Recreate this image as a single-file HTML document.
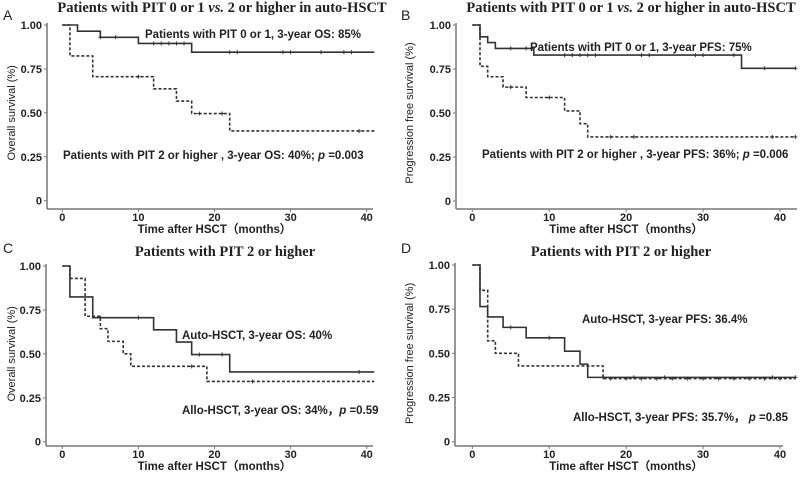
<!DOCTYPE html>
<html><head><meta charset="utf-8"><style>
body{margin:0;background:#fff}
svg text{font-family:"Liberation Sans",sans-serif;font-weight:bold;fill:#222}
</style></head><body>
<svg id="fig" width="800" height="475" xmlns="http://www.w3.org/2000/svg"></svg>
<script>
// Panel A data
const aSolidT=[0,2,5,10,17,41];const aSolidS=[1,0.965,0.93,0.895,0.845,0.845];
const aSolidC=[5,7,12,13,14,15,16,22,23,29,30,34,37,38];
const aDashT=[0,1,4,12,15,17,22,41];const aDashS=[1,0.824,0.706,0.637,0.567,0.496,0.397,0.397];
const aDashC=[10,18,21,39];
// Panel B data
const bSolidT=[0,1,2,3,8,35,42];const bSolidS=[1,0.933,0.9,0.867,0.829,0.754,0.754];
const bSolidC=[5,7,12,13,14,15,16,22,23,29,30,34,38,42];
const bDashT=[0,1,2,4,7,12,14,15,42];const bDashS=[1,0.765,0.706,0.647,0.588,0.512,0.439,0.364,0.364];
const bDashC=[5,10,18,21,39,42];
// Panel C data
const cSolidT=[0,1,4,12,15,17,22,41];const cSolidS=[1,0.824,0.706,0.637,0.567,0.496,0.397,0.397];
const cSolidC=[5,10,18,21,39];
const cDashT=[0,1,3,5,6,8,9,19,41];const cDashS=[1,0.929,0.714,0.643,0.571,0.5,0.429,0.343,0.343];
const cDashC=[17,25];
// Panel D data
const dSolidT=[0,1,2,4,7,12,14,15,42];const dSolidS=[1,0.765,0.706,0.647,0.588,0.512,0.439,0.364,0.364];
const dSolidC=[5,10,17,21,25,39,42];
const dDashT=[0,1,2,3,6,17,42];const dDashS=[1,0.857,0.571,0.5,0.429,0.357,0.357];
const dDashC=[18,20,22,24,26,28,30,32,34,36,38,40];
const yTicks=[0,0.25,0.5,0.75,1];const yTickLabels=["0","0.25","0.50","0.75","1.00"];
const xTicks=[0,10,20,30,40];

const NS="http://www.w3.org/2000/svg";const svg=document.getElementById('fig');
function mk(tag,attrs,parent,txt){const e=document.createElementNS(NS,tag);for(const k in attrs)e.setAttribute(k,attrs[k]);if(txt!==undefined)e.textContent=txt;(parent||svg).appendChild(e);return e;}

const panels=[
 {L:"A",lx:3,ly:20,title:"Patients with PIT 0 or 1  vs. 2 or higher in auto-HSCT",tx:222,ty:12,ax:47,x0:62.3,x40:366.7,y1:25,y0:200.7,axY:209,xEnd:373,yt:"Overall survival (%)",
  s:[aSolidT,aSolidS,aSolidC],d:[aDashT,aDashS,aDashC],
  n1:["Patients with PIT 0 or 1, 3-year OS: 85%",145,38],n2:["Patients with PIT 2 or higher , 3-year OS: 40%;  ",63,159,"=0.003"]},
 {L:"B",lx:401,ly:20,title:"Patients with PIT 0 or 1  vs. 2 or higher in auto-HSCT",tx:631,ty:12,ax:456,x0:472.3,x40:780,y1:25,y0:201,axY:209,xEnd:797,yt:"Progression free survival (%)",
  s:[bSolidT,bSolidS,bSolidC],d:[bDashT,bDashS,bDashC],
  n1:["Patients with PIT 0 or 1, 3-year PFS: 75%",530,51],n2:["Patients with PIT 2 or higher , 3-year PFS: 36%;  ",482,158,"=0.006"]},
 {L:"C",lx:3,ly:253,title:"Patients with PIT 2 or higher",tx:225,ty:256,ax:46,x0:62.3,x40:366.7,y1:266,y0:441.7,axY:446,xEnd:373,yt:"Overall survival (%)",
  s:[cSolidT,cSolidS,cSolidC],d:[cDashT,cDashS,cDashC],
  n1:["Auto-HSCT, 3-year OS: 40%",182,339],n2:["Allo-HSCT, 3-year OS: 34%，",182,414,"=0.59"]},
 {L:"D",lx:401,ly:253,title:"Patients with PIT 2 or higher",tx:621,ty:256,ax:455,x0:472.3,x40:780,y1:265,y0:441.7,axY:446,xEnd:783,yt:"Progression free survival (%)",
  s:[dSolidT,dSolidS,dSolidC],d:[dDashT,dDashS,dDashC],
  n1:["Auto-HSCT, 3-year PFS: 36.4%",582,323],n2:["Allo-HSCT, 3-year PFS: 35.7%，  ",573,421,"=0.85"]}
];

panels.forEach(p=>{
 const g=mk('g',{});
 
 
 const X=t=>p.x0+(p.x40-p.x0)*t/40;const Y=s=>p.y0+(p.y1-p.y0)*s;
 const lt=mk('text',{x:p.lx,y:p.ly,'font-size':14,style:'font-weight:normal'},g,p.L);
 
 const tt=mk('text',{x:p.tx,y:p.ty,'font-size':14.5,'text-anchor':'middle',style:'font-family:"Liberation Serif",serif;font-weight:bold'},g);
 
 if(p.title.indexOf('vs.')>=0){const parts=p.title.split('vs.');mk('tspan',{},tt,parts[0]);mk('tspan',{style:'font-style:italic'},tt,'vs.');mk('tspan',{},tt,parts[1]);}else tt.textContent=p.title;
 const ya=mk('line',{x1:p.ax,y1:p.y1-2,x2:p.ax,y2:p.axY,stroke:'#777','stroke-width':1.5},g);
 
 const xa=mk('line',{x1:p.ax,y1:p.axY,x2:p.xEnd,y2:p.axY,stroke:'#777','stroke-width':1.5},g);
 
 yTicks.forEach((v,i)=>{mk('line',{x1:p.ax-3,x2:p.ax,y1:Y(v),y2:Y(v),stroke:'#777'},g);
  const t=mk('text',{x:p.ax-5,y:Y(v)+4,'font-size':11,'text-anchor':'end'},g,yTickLabels[i]);
  });
 xTicks.forEach(v=>{mk('line',{x1:X(v),x2:X(v),y1:p.axY,y2:p.axY+3,stroke:'#777'},g);
  const t=mk('text',{x:X(v),y:p.axY+12,'font-size':11,'text-anchor':'middle'},g,String(v));
  });
 const xt=mk('text',{x:(p.x0+p.x40)/2,y:p.axY+24,'font-size':11.5,'text-anchor':'middle'},g,'Time after HSCT（months）');
 
 const yc=(p.y1+p.y0)/2,yx=p.lx+12;
 const yt=mk('text',{x:yx,y:yc,'font-size':11,'text-anchor':'middle',transform:`rotate(-90 ${yx} ${yc})`,style:'font-weight:normal'},g,p.yt);
 
 [[p.s,'none','solid'],[p.d,'3,2','dashed']].forEach(([ser,dash,nm])=>{
  const [T,S,C]=ser;let d=`M${X(T[0])},${Y(S[0])}`;
  for(let i=1;i<T.length;i++){d+=` H${X(T[i])}`;if(i<S.length)d+=` V${Y(S[i])}`;}
  const path=mk('path',{d:d,fill:'none',stroke:'#333','stroke-width':1.6,'stroke-dasharray':dash},g);
  
  C.forEach(c=>{let s=S[0];for(let i=0;i<T.length;i++)if(T[i]<=c)s=S[i];
   const m=mk('path',{d:`M${X(c)-2},${Y(s)} h4 M${X(c)},${Y(s)-2} v4`,stroke:'#333','stroke-width':1},g);
   });
 });
 const a1=mk('text',{x:p.n1[1],y:p.n1[2],'font-size':11.5},g,p.n1[0]);
 
 const a2=mk('text',{x:p.n2[1],y:p.n2[2],'font-size':11.5},g);
 
 mk('tspan',{},a2,p.n2[0]);mk('tspan',{style:'font-style:italic'},a2,'p');mk('tspan',{},a2,' '+p.n2[3]);
});
</script>
</body></html>
